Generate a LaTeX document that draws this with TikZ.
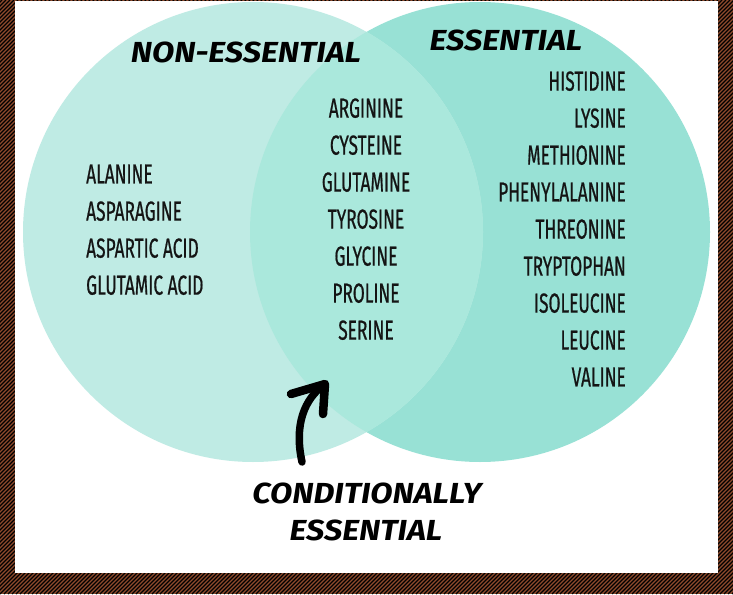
\documentclass[tikz,border=0pt]{standalone}
\usepackage{fontspec}
\setmainfont{Fira Sans}
\newfontfamily\bodyfont[FakeStretch=0.63,FakeBold=0.6]{Fira Sans}
\newfontfamily\headfont[FakeStretch=1.12]{Fira Sans}
\definecolor{leftc}{HTML}{BFEBE4}
\definecolor{rightc}{HTML}{98E1D5}
\definecolor{overc}{HTML}{AAE8DC}
\definecolor{framebrown}{HTML}{8E4A2C}
\tikzset{
  item/.style={font=\bodyfont\fontsize{27.5}{30}\selectfont, inner sep=0pt, text=black!92, text depth=0pt},
  head/.style={font=\headfont\bfseries\itshape\fontsize{29}{32}\selectfont, inner sep=0pt, text=black, text depth=0pt},
  brush/.style={line width=7.5pt, black, line cap=round, line join=round}
}
\begin{document}
\begin{tikzpicture}[x=1pt,y=-1pt]
\useasboundingbox (0,0) rectangle (733,594);
% frame
\begin{scope}
  \clip (0,0) rectangle (733,594);
  \fill[framebrown] (0,0) rectangle (733,594);
  \foreach \i in {-600,-596,...,736} \draw[black, line width=1.2pt] (\i,594) -- (\i+594,0);
\end{scope}
\fill[white] (15,1) rectangle (718,573);
% circles
\fill[rightc] (480,232) circle (230);
\fill[leftc] (253,232) circle (230);
\begin{scope}
  \clip (253,232) circle (230);
  \fill[overc] (480,232) circle (230);
\end{scope}
% headings
\node[head] (hnon) at (246,52) {NON-ESSENTIAL};
\node[head] (hess) at (506,40) {ESSENTIAL};
\node[head] (hcond1) at (367,493) {CONDITIONALLY};
\node[head] (hcond2) at (366,530) {ESSENTIAL};
% non-essential
\node[item, anchor=west] (ala) at (86,174) {ALANINE};
\node[item, anchor=west] (asn) at (86,211) {ASPARAGINE};
\node[item, anchor=west] (asp) at (86,248) {ASPARTIC ACID};
\node[item, anchor=west] (glu) at (86,285) {GLUTAMIC ACID};
% conditional
\node[item] (arg) at (366,108) {ARGININE};
\node[item] (cys) at (366,145) {CYSTEINE};
\node[item] (gln) at (366,182) {GLUTAMINE};
\node[item] (tyr) at (366,219) {TYROSINE};
\node[item] (gly) at (366,256) {GLYCINE};
\node[item] (pro) at (366,293) {PROLINE};
\node[item] (ser) at (366,330) {SERINE};
% essential
\node[item, anchor=east] (his) at (626,81) {HISTIDINE};
\node[item, anchor=east] (lys) at (626,118) {LYSINE};
\node[item, anchor=east] (met) at (626,155) {METHIONINE};
\node[item, anchor=east] (phe) at (626,192) {PHENYLALANINE};
\node[item, anchor=east] (thr) at (626,229) {THREONINE};
\node[item, anchor=east] (trp) at (626,266) {TRYPTOPHAN};
\node[item, anchor=east] (ile) at (626,303) {ISOLEUCINE};
\node[item, anchor=east] (leu) at (626,340) {LEUCINE};
\node[item, anchor=east] (val) at (626,377) {VALINE};
% arrow
\coordinate (atail) at (302,462);
\coordinate (atip) at (325,384);
\coordinate (abarbl) at (291,394);
\coordinate (abarbr) at (323,414);
\draw[brush] (atail) .. controls (294,425) and (304,399) .. (atip);
\draw[brush, line width=8.5pt] (abarbl) -- (atip) -- (abarbr);
\end{tikzpicture}
\end{document}
